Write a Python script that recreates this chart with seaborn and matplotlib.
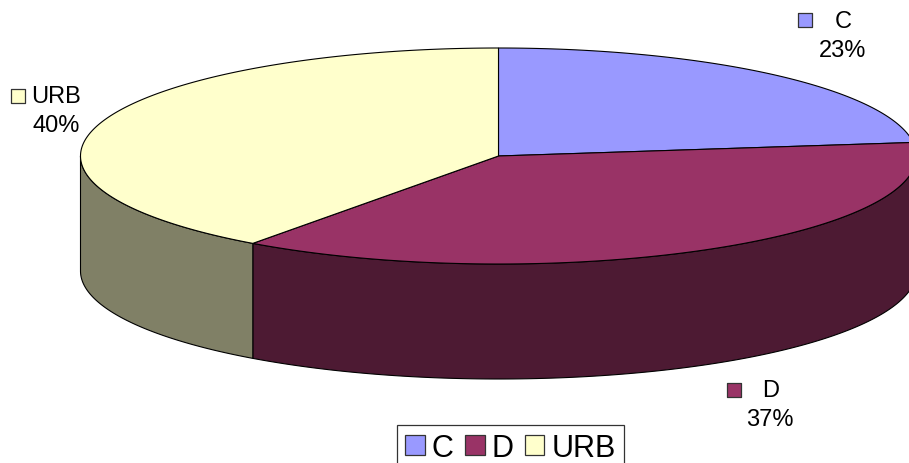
import numpy as np
from matplotlib import pyplot as plt
from matplotlib.patches import Patch
import seaborn as sns

categories = ['C', 'D', 'URB']
shares = [23, 37, 40]
top_colors = ['#9999FF', '#993366', '#FFFFCC']

sns.set_theme(style='white')
plt.rcParams['font.family'] = ['Liberation Sans', 'DejaVu Sans']

palette = sns.color_palette(top_colors)
side_colors = [tuple(c / 2 for c in col) for col in palette]

# pie geometry in pixels of the image
cx, cy = 498.5, 157
rx, ry = 418, 108
depth = 115

fig = plt.figure(figsize=(9.09, 4.64), dpi=100)
ax = fig.add_axes([0, 0, 1, 1])
ax.set_xlim(0, 909)
ax.set_ylim(464, 0)
ax.axis('off')


def rim(start, end, drop=0):
    # angles are degrees clockwise from 12 o'clock
    t = np.radians(np.linspace(start, end, 200))
    return cx + rx * np.sin(t), cy - ry * np.cos(t) + drop


edges = np.cumsum([0] + shares) * 3.6

# side walls, only the front half (90 to 270) can be seen
for i in range(len(categories)):
    start, end = max(edges[i], 90), min(edges[i + 1], 270)
    if start >= end:
        continue
    x, y = rim(start, end)
    x2, y2 = rim(end, start, depth)
    ax.fill(np.r_[x, x2], np.r_[y, y2], facecolor=side_colors[i], edgecolor='black', lw=0.8)

# top faces
for i in range(len(categories)):
    x, y = rim(edges[i], edges[i + 1])
    ax.fill(np.r_[cx, x], np.r_[cy, y], facecolor=palette[i], edgecolor='black', lw=0.8)

# data labels with their small keys
label_fs = 17
key_pos = [(805, 20.5), (734, 390.5), (18, 96.5)]
name_pos = [(843, 22), (771, 391), (31, 97)]
pct_pos = [(843, 51), (770, 420), (56, 126)]
name_ha = ['center', 'center', 'left']
for i, cat in enumerate(categories):
    ax.scatter(*key_pos[i], s=105, marker='s', color=palette[i], edgecolor='#333333', linewidth=0.9, zorder=3)
    ax.text(*name_pos[i], cat, fontsize=label_fs, color='black', ha=name_ha[i], va='center')
    ax.text(*pct_pos[i], f'{shares[i]}%', fontsize=label_fs, color='black', ha='center', va='center')

handles = [Patch(facecolor=palette[i], edgecolor='#333333', lw=0.9) for i in range(len(categories))]
leg = ax.legend(handles, categories, loc='upper left', bbox_to_anchor=(397, 426), bbox_transform=ax.transData,
                ncol=3, fontsize=22, frameon=True, fancybox=False, framealpha=1, edgecolor='#333333',
                labelcolor='black', borderaxespad=0, borderpad=0.26, handlelength=0.65, handleheight=0.65,
                handletextpad=0.23, columnspacing=0.36)
leg.get_frame().set_linewidth(0.9)

plt.savefig('out.png', dpi=100)
plt.close()
